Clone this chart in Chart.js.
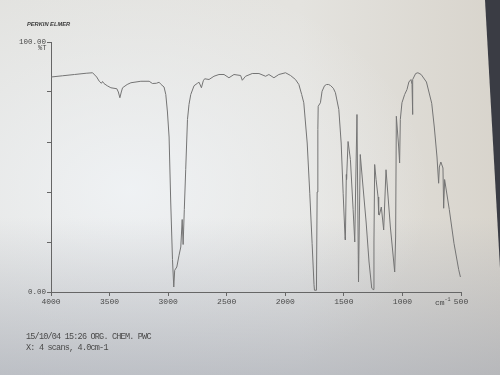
<!DOCTYPE html>
<html>
<head>
<meta charset="utf-8">
<script src="https://cdn.jsdelivr.net/npm/chart.js@4"></script>
<style>
  html, body { margin: 0; padding: 0; }
  body {
    width: 500px; height: 375px; overflow: hidden; position: relative;
    background:
      linear-gradient(to bottom, rgba(0,0,0,0) 58%, rgba(150,156,170,0.5) 100%),
      radial-gradient(ellipse 300px 220px at 130px 190px, rgba(240,243,246,0.9), rgba(240,243,246,0) 100%),
      linear-gradient(to right, #e2e2df 0%, #e4e3df 60%, #d8d4cc 100%);
  }
  #c { position: absolute; left: 0; top: 0; }
  .t { position: absolute; color: #4a4a4a; white-space: nowrap; font-family: "Liberation Mono", "DejaVu Sans Mono", monospace; }
  #brand { left: 27px; top: 21px; font: italic bold 6px "Liberation Sans", sans-serif; color: #3a3a3a; transform: scaleX(0.95); transform-origin: left; }
  #unit { left: 38px; top: 44px; font-size: 7px; }
  #cm { left: 435px; top: 297px; font-size: 8px; }
  #f1 { left: 26px; top: 332px; font-size: 8.5px; letter-spacing: -0.8px; }
  #f2 { left: 26px; top: 343px; font-size: 8.5px; letter-spacing: -0.8px; }
  #edge { position: absolute; left: 0; top: 0; width: 500px; height: 375px; background: #3a3c44;
          clip-path: polygon(485px 0, 500px 0, 500px 268px); }
</style>
</head>
<body>
<div id="edge"></div>
<canvas id="c" width="500" height="375"></canvas>
<div class="t" id="brand">PERKIN ELMER</div>
<div class="t" id="unit">%T</div>
<div class="t" id="cm">cm<sup style="font-size:5px">-1</sup></div>
<div class="t" id="f1">15/10/04 15:26 ORG. CHEM. PWC</div>
<div class="t" id="f2">X: 4 scans, 4.0cm-1</div>
<script>
// wavenumber (cm-1) and %T
const wavenumbers = [4000, 3900, 3800, 3700, 3645, 3610, 3588, 3570, 3560, 3548, 3520, 3489, 3438, 3425, 3412, 3400, 3389, 3350, 3318, 3233, 3162, 3134, 3100, 3077, 3060,
  3035, 3020, 3006, 2992, 2978, 2963, 2952, 2944, 2926, 2907, 2892, 2880, 2872, 2862, 2850, 2835, 2822, 2807, 2779, 2750, 2736, 2716, 2700, 2688, 2651, 2609,
  2566, 2523, 2481, 2438, 2381, 2367, 2339, 2282, 2225, 2168, 2140, 2097, 2055, 1998, 1955, 1913, 1884, 1860, 1842, 1813, 1791, 1771, 1755, 1751, 1734, 1728,
  1722, 1719, 1700, 1686, 1665, 1648, 1630, 1614, 1590, 1572, 1543, 1523, 1506, 1490, 1487, 1479, 1477, 1464, 1444, 1421, 1407, 1400, 1388, 1375, 1360,
  1340, 1310, 1285, 1262, 1250, 1243, 1237, 1225, 1208, 1203, 1197, 1180, 1160, 1140, 1103, 1066, 1058, 1052, 1032, 1024, 1018, 1004, 981, 961, 945, 927,
  918, 915, 910, 887, 868, 840, 795, 750, 728, 705, 691, 685, 672, 654, 648, 640, 600, 560, 520, 505];
const transmittance = [86.0, 86.5, 87.0, 87.5, 87.7, 86.0, 84.3, 83.5, 84.2, 83.4, 82.5, 81.7, 81.3, 80.0, 77.7, 80.0, 81.7, 83.0, 83.7, 84.3, 84.3, 83.4, 83.5, 83.9, 83.0,
  82.0, 79.0, 72.0, 62.0, 36.0, 13.0, 2.0, 8.7, 10.0, 14.7, 18.0, 29.0, 19.0, 33.0, 49.0, 69.0, 75.0, 79.0, 82.5, 83.5, 83.9, 81.7, 84.5, 85.3, 85.0, 86.3,
  87.0, 87.0, 85.7, 87.0, 86.6, 84.7, 86.3, 87.4, 87.4, 86.3, 87.0, 85.7, 87.0, 87.7, 86.6, 85.0, 83.0, 79.0, 75.7, 59.6, 39.5, 19.4, 3.0, 0.7, 0.7, 40.0,
  65.0, 74.3, 75.7, 80.3, 82.5, 83.0, 83.0, 82.6, 81.5, 79.7, 73.0, 59.6, 39.5, 22.0, 20.8, 47.0, 45.0, 60.2, 53.0, 33.0, 20.0, 40.0, 71.0, 4.0, 55.0,
  44.0, 28.0, 12.0, 1.5, 1.0, 20.0, 51.0, 45.0, 38.0, 31.0, 30.8, 34.0, 24.8, 48.9, 26.0, 8.0, 22.0, 70.3, 58.0, 51.6, 69.0, 75.7, 79.0, 81.0, 84.0, 85.0,
  83.0, 71.0, 85.0, 87.4, 87.7, 87.0, 84.0, 75.5, 66.0, 54.0, 43.5, 50.0, 52.0, 49.6, 33.5, 45.0, 33.0, 19.5, 9.0, 6.0];
const xTicks = [4000, 3500, 3000, 2500, 2000, 1500, 1000, 500];
const yTicks = [0, 20, 40, 60, 80, 100];

const axisColor = '#666';
const tickFont = { family: 'Liberation Mono', size: 8 };

new Chart(document.getElementById('c'), {
  type: 'line',
  data: {
    datasets: [{
      data: wavenumbers.map((w, i) => ({ x: w, y: transmittance[i] })),
      borderColor: '#747474',
      borderWidth: 1,
      pointRadius: 0,
      tension: 0,
      fill: false
    }]
  },
  options: {
    responsive: false,
    animation: false,
    devicePixelRatio: 1,
    layout: { padding: { top: 42, right: 39, left: 0, bottom: 0 } },
    plugins: { legend: { display: false }, tooltip: { enabled: false } },
    scales: {
      x: {
        type: 'linear',
        reverse: true,
        min: 500,
        max: 4000,
        afterBuildTicks: s => { s.ticks = xTicks.map(v => ({ value: v })); },
        afterFit: s => { s.height = 83; },
        ticks: { color: '#4a4a4a', font: tickFont, padding: 1, maxRotation: 0, autoSkip: false,
                 callback: v => String(v) },
        grid: { drawOnChartArea: false, tickLength: 4, color: axisColor },
        border: { color: axisColor, width: 1 }
      },
      y: {
        min: 0,
        max: 100,
        afterBuildTicks: s => { s.ticks = yTicks.map(v => ({ value: v })); },
        afterFit: s => { s.width = 51; },
        ticks: {
          color: '#4a4a4a', font: { family: 'Liberation Mono', size: 7.5 }, padding: 1,
          callback: v => v === 100 ? '100.00' : v === 0 ? '0.00' : ''
        },
        grid: { drawOnChartArea: false, tickLength: 4, color: axisColor },
        border: { color: axisColor, width: 1 }
      }
    }
  }
});
</script>
</body>
</html>
